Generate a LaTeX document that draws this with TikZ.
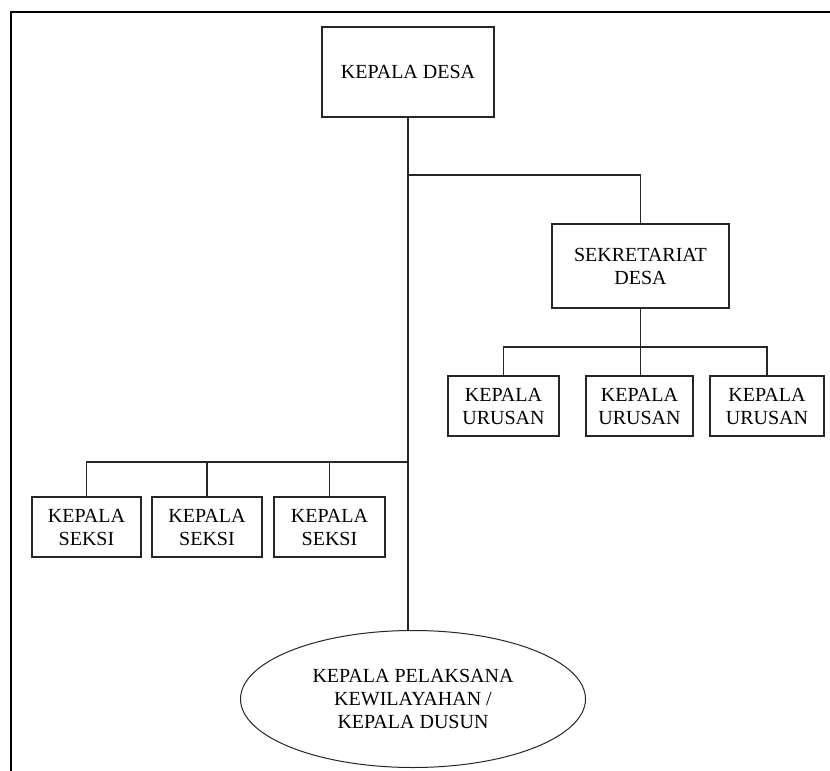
\documentclass[tikz,border=0pt]{standalone}
\usepackage{fontspec}
\setmainfont{Liberation Serif}
\usetikzlibrary{shapes.geometric}

\begin{document}
\begin{tikzpicture}[
      x=1pt, y=-1pt,
      box/.style={rectangle, draw=black!85, line width=1.2pt, align=center, inner sep=0pt, font=\fontsize{20}{23}\selectfont},
      oval/.style={ellipse, draw=black!85, line width=1pt, align=center, inner sep=0pt, minimum width=345pt, minimum height=137pt, font=\fontsize{20}{23}\selectfont},
      link/.style={draw=black!85, line width=1.2pt}
    ]
    \useasboundingbox (0,0) rectangle (830,771);
    % outer frame
    \draw[line width=2.2pt] (11,800) -- (11,12) -- (860,12);

    \node[box, minimum width=172pt, minimum height=90pt] (desa) at (408,72) {KEPALA DESA};
    \node[box, minimum width=177pt, minimum height=84pt] (sekdes) at (640.5,266) {SEKRETARIAT\\DESA};

    \node[box, minimum width=111pt, minimum height=60pt] (urusanA) at (503.5,406) {KEPALA\\URUSAN};
    \node[box, minimum width=107pt, minimum height=60pt] (urusanB) at (639.5,406) {KEPALA\\URUSAN};
    \node[box, minimum width=114pt, minimum height=60pt] (urusanC) at (767,406) {KEPALA\\URUSAN};

    \node[box, minimum width=109pt, minimum height=60pt] (seksiA) at (86.5,527) {KEPALA\\SEKSI};
    \node[box, minimum width=110pt, minimum height=60pt] (seksiB) at (207,527) {KEPALA\\SEKSI};
    \node[box, minimum width=111pt, minimum height=60pt] (seksiC) at (329.5,527) {KEPALA\\SEKSI};

    \node[oval] (dusun) at (413,699) {KEPALA PELAKSANA\\KEWILAYAHAN /\\KEPALA DUSUN};

    \coordinate (forkSek) at (408,175);
    \coordinate (forkUrusan) at (640.5,347);
    \coordinate (forkSeksi) at (408,462);

    % main line
    \draw[link] (desa.south) -- (desa.south |- dusun.north);
    \draw[link] (forkSek) -| (sekdes.north);
    % urusan
    \draw[link] (sekdes.south) -- (forkUrusan);
    \draw[link] (urusanA.north) |- (forkUrusan) -| (urusanC.north);
    \draw[link] (forkUrusan) -- (forkUrusan |- urusanB.north);
    % seksi
    \draw[link] (forkSeksi) -| (seksiA.north);
    \draw[link] (seksiB.north) -- (seksiB.north |- forkSeksi);
    \draw[link] (seksiC.north) -- (seksiC.north |- forkSeksi);
  \end{tikzpicture}
\end{document}
